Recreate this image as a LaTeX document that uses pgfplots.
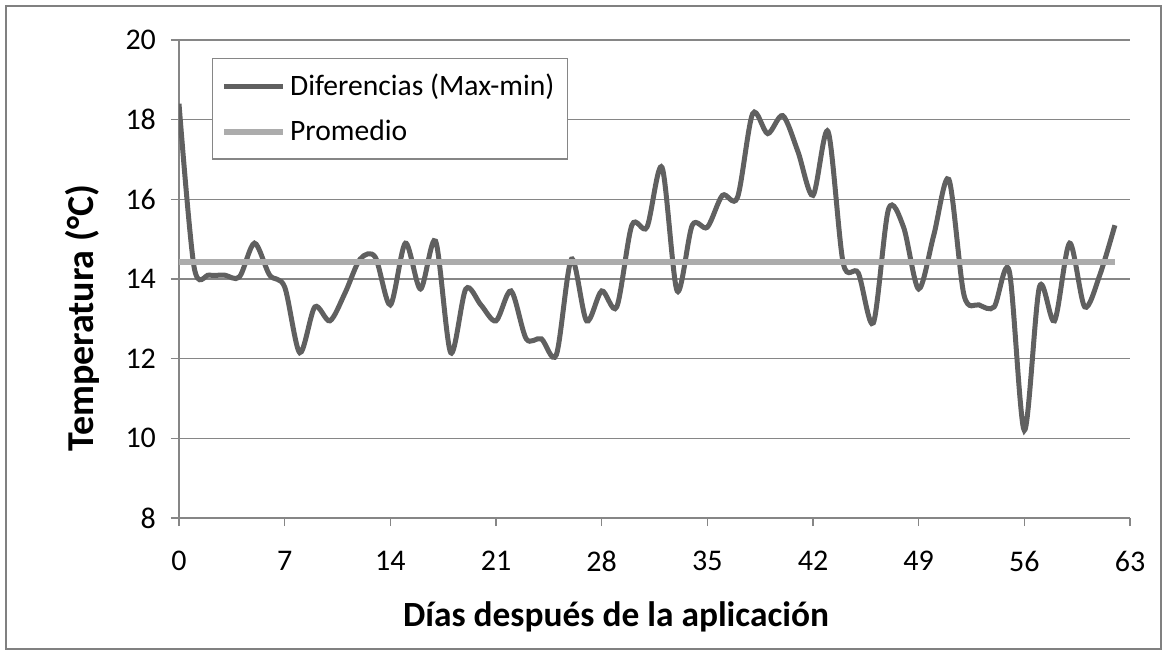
\documentclass[border=0pt]{standalone}
\usepackage{pgfplots}
\pgfplotsset{compat=1.18}
\usepackage{fontspec}
\setmainfont{Carlito}
\definecolor{dark}{RGB}{96,96,96}
\definecolor{light}{RGB}{172,172,172}
\definecolor{gridc}{RGB}{134,134,134}
\definecolor{framec}{RGB}{128,128,128}
\begin{document}
\begin{tikzpicture}
\path (-89.5pt,-68.5pt) rectangle (494pt,259pt);
\draw[framec, line width=1.3pt] (-86.5pt,-65.5pt) rectangle (491pt,256pt);
\begin{axis}[
  scale only axis, width=475.5pt, height=239pt,
  at={(0,0)}, anchor=south west,
  xmin=0, xmax=63, ymin=8, ymax=20,
  xtick={0,7,...,63}, ytick={8,10,...,20},
  axis x line*=bottom, axis y line*=left,
  axis line style={-, gridc},
  x axis line style={line width=1pt},
  y axis line style={line width=0.6pt},
  xtick pos=left, ytick pos=left,
  tick align=outside, major tick length=4pt,
  tick style={gridc, line width=0.6pt},
  ymajorgrids, major grid style={gridc, line width=0.6pt},
  /pgf/number format/assume math mode=true,
  ticklabel style={font=\fontsize{15}{18}\selectfont, text=black},
  xticklabel style={yshift=-9pt},
  yticklabel style={xshift=-4pt},
  xlabel={Días después de la aplicación},
  ylabel={Temperatura (°C)},
  xlabel style={font=\bfseries\fontsize{17.7}{21}\selectfont, at={(axis description cs:0.4595,0)}, anchor=center, yshift=-49.5pt},
  ylabel style={font=\bfseries\fontsize{19}{22}\selectfont, at={(axis description cs:-0.102,0.418)}, anchor=center},
  legend style={at={(axis description cs:0.0347,0.962)}, anchor=north west,
    draw=gridc, line width=0.6pt, font=\fontsize{14.8}{17}\selectfont,
    row sep=7pt, inner xsep=4.5pt, inner ysep=5.5pt, cells={anchor=west}},
  legend image code/.code={\draw[#1] (0pt,0pt) -- (29.5pt,0pt);},
]
\addplot[dark, line width=2.5pt, smooth, tension=0.5] coordinates {
(0,18.4) (1,14.3) (2,14.1) (3,14.1) (4,14.05) (5,14.9) (6,14.1) (7,13.8) (8,12.15) (9,13.3)
(10,12.95) (11,13.65) (12,14.5) (13,14.55) (14,13.35) (15,14.9) (16,13.75) (17,14.95) (18,12.15) (19,13.75)
(20,13.35) (21,12.95) (22,13.7) (23,12.5) (24,12.5) (25,12.1) (26,14.5) (27,12.95) (28,13.7) (29,13.3)
(30,15.35) (31,15.3) (32,16.8) (33,13.7) (34,15.35) (35,15.3) (36,16.1) (37,16.05) (38,18.15) (39,17.65)
(40,18.1) (41,17.2) (42,16.1) (43,17.7) (44,14.4) (45,14.15) (46,12.9) (47,15.75) (48,15.3) (49,13.75)
(50,15.1) (51,16.5) (52,13.6) (53,13.35) (54,13.3) (55,14.2) (56,10.2) (57,13.8) (58,12.95) (59,14.9)
(60,13.3) (61,14.1) (62,15.35)
};
\addlegendentry{Diferencias (Max-min)}
\addplot[light, line width=2.8pt] coordinates {(0,14.43) (62,14.43)};
\addlegendentry{Promedio}
\end{axis}
\end{tikzpicture}
\end{document}
